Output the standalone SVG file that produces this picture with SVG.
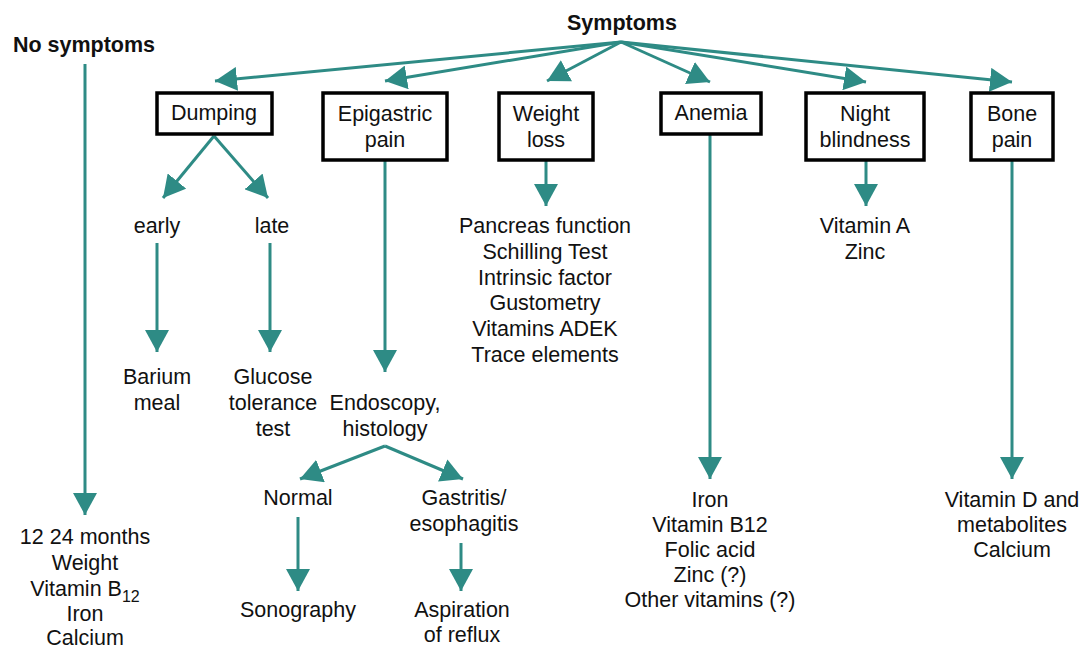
<svg xmlns="http://www.w3.org/2000/svg" width="1083" height="650" viewBox="0 0 1083 650">
  <style>
    text { font-family: "Liberation Sans", Arial, sans-serif; font-size: 21.5px; fill: #111; text-anchor: middle; }
    .title { font-weight: bold; }
    .box { fill: #fff; stroke: #000; stroke-width: 3.5; }
    .conn { stroke: #2e8b85; stroke-width: 3; fill: none; marker-end: url(#head); }
  </style>
  <defs>
    <marker id="head" markerUnits="userSpaceOnUse" viewBox="0 0 22 24" markerWidth="22" markerHeight="24" refX="22" refY="12" orient="auto">
      <path d="M0,0 L22,12 L0,24 z" fill="#2e8b85"/>
    </marker>
  </defs>

  <rect width="1083" height="650" fill="#fff"/>

  <!-- connectors -->
  <g id="connectors">
    <line class="conn" x1="621" y1="42" x2="215" y2="81"/>
    <line class="conn" x1="621" y1="42" x2="385" y2="81"/>
    <line class="conn" x1="621" y1="42" x2="547" y2="81"/>
    <line class="conn" x1="621" y1="42" x2="710" y2="82"/>
    <line class="conn" x1="621" y1="42" x2="866" y2="82"/>
    <line class="conn" x1="621" y1="42" x2="1012" y2="82"/>

    <line class="conn" x1="85" y1="64" x2="85" y2="515"/>

    <line class="conn" x1="214" y1="136" x2="163" y2="198"/>
    <line class="conn" x1="214" y1="136" x2="268" y2="198"/>
    <line class="conn" x1="157" y1="243" x2="157" y2="352"/>
    <line class="conn" x1="270" y1="243" x2="270" y2="352"/>

    <line class="conn" x1="385" y1="160" x2="385" y2="372"/>
    <line class="conn" x1="385" y1="446" x2="300" y2="479"/>
    <line class="conn" x1="385" y1="446" x2="463" y2="479"/>
    <line class="conn" x1="298" y1="517" x2="298" y2="591"/>
    <line class="conn" x1="461" y1="543" x2="461" y2="591"/>

    <line class="conn" x1="546" y1="160" x2="546" y2="206"/>
    <line class="conn" x1="710" y1="134" x2="710" y2="479"/>
    <line class="conn" x1="866" y1="160" x2="866" y2="206"/>
    <line class="conn" x1="1012" y1="160" x2="1012" y2="479"/>
  </g>

  <!-- headings -->
  <g id="symptoms">
    <text class="title" x="622" y="30">Symptoms</text>
  </g>
  <g id="no-symptoms">
    <text class="title" x="84" y="52">No symptoms</text>
  </g>

  <!-- symptom boxes -->
  <g id="dumping">
    <rect class="box" x="157" y="93" width="115" height="41"/>
    <text x="214" y="120">Dumping</text>
  </g>
  <g id="epigastric-pain">
    <rect class="box" x="323" y="93" width="124" height="67"/>
    <text x="385" y="121">Epigastric</text>
    <text x="385" y="147">pain</text>
  </g>
  <g id="weight-loss">
    <rect class="box" x="499" y="93" width="94" height="67"/>
    <text x="546" y="121">Weight</text>
    <text x="546" y="147">loss</text>
  </g>
  <g id="anemia">
    <rect class="box" x="661" y="93" width="100" height="41"/>
    <text x="711" y="120">Anemia</text>
  </g>
  <g id="night-blindness">
    <rect class="box" x="806" y="93" width="118" height="67"/>
    <text x="865" y="121">Night</text>
    <text x="865" y="147">blindness</text>
  </g>
  <g id="bone-pain">
    <rect class="box" x="971" y="93" width="82" height="67"/>
    <text x="1012" y="121">Bone</text>
    <text x="1012" y="147">pain</text>
  </g>

  <!-- follow-up without symptoms -->
  <g id="follow-up">
    <text x="85" y="544">12 24 months</text>
    <text x="85" y="570">Weight</text>
    <text x="85" y="596">Vitamin B<tspan font-size="16" dy="6">12</tspan></text>
    <text x="85" y="621">Iron</text>
    <text x="85" y="645">Calcium</text>
  </g>

  <!-- dumping branches -->
  <g id="early">
    <text x="157" y="233">early</text>
  </g>
  <g id="late">
    <text x="272" y="233">late</text>
  </g>
  <g id="barium-meal">
    <text x="157" y="384">Barium</text>
    <text x="157" y="410">meal</text>
  </g>
  <g id="glucose-tolerance">
    <text x="273" y="384">Glucose</text>
    <text x="273" y="410">tolerance</text>
    <text x="273" y="436">test</text>
  </g>

  <!-- epigastric pain branches -->
  <g id="endoscopy">
    <text x="385" y="410">Endoscopy,</text>
    <text x="385" y="436">histology</text>
  </g>
  <g id="normal">
    <text x="298" y="505">Normal</text>
  </g>
  <g id="gastritis">
    <text x="464" y="505">Gastritis/</text>
    <text x="464" y="531">esophagitis</text>
  </g>
  <g id="sonography">
    <text x="298" y="617">Sonography</text>
  </g>
  <g id="aspiration">
    <text x="462" y="617">Aspiration</text>
    <text x="462" y="642">of reflux</text>
  </g>

  <!-- weight loss tests -->
  <g id="weight-loss-tests">
    <text x="545" y="233">Pancreas function</text>
    <text x="545" y="259">Schilling Test</text>
    <text x="545" y="285">Intrinsic factor</text>
    <text x="545" y="310">Gustometry</text>
    <text x="545" y="336">Vitamins ADEK</text>
    <text x="545" y="362">Trace elements</text>
  </g>

  <!-- anemia tests -->
  <g id="anemia-tests">
    <text x="710" y="507">Iron</text>
    <text x="710" y="532">Vitamin B12</text>
    <text x="710" y="557">Folic acid</text>
    <text x="710" y="582">Zinc (?)</text>
    <text x="710" y="607">Other vitamins (?)</text>
  </g>

  <!-- night blindness tests -->
  <g id="night-blindness-tests">
    <text x="865" y="233">Vitamin A</text>
    <text x="865" y="259">Zinc</text>
  </g>

  <!-- bone pain tests -->
  <g id="bone-pain-tests">
    <text x="1012" y="507">Vitamin D and</text>
    <text x="1012" y="532">metabolites</text>
    <text x="1012" y="557">Calcium</text>
  </g>
</svg>
